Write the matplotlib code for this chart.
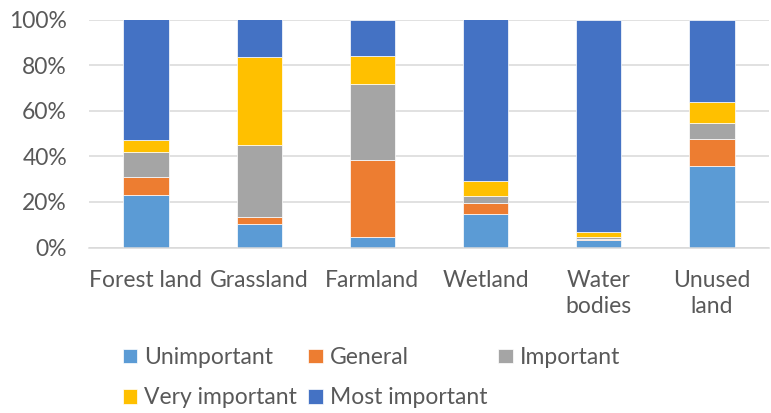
import matplotlib
matplotlib.use("Agg")
import matplotlib.pyplot as plt
import numpy as np

categories = ["Forest land", "Grassland", "Farmland", "Wetland", "Water\nbodies", "Unused\nland"]
series_names = ["Unimportant", "General", "Important", "Very important", "Most important"]
unimportant = [22.9, 10.5, 4.7, 14.9, 3.2, 35.9]
general = [8.2, 2.9, 33.8, 4.4, 0.6, 11.7]
important = [10.8, 31.7, 33.3, 3.5, 0.9, 7.0]
very_important = [5.4, 38.3, 12.4, 6.3, 2.2, 9.0]
most_important = [52.7, 16.6, 15.8, 70.9, 93.1, 36.4]
colors = ["#5B9BD5", "#ED7D31", "#A5A5A5", "#FFC000", "#4472C4"]
yticks = [0, 20, 40, 60, 80, 100]

plt.rcParams['font.family'] = ['Lato', 'DejaVu Sans']
text_color = "#595959"
fs = 16.5

fig = plt.figure(figsize=(7.71, 4.13), dpi=100)
ax = fig.add_axes([89.3/771, 1-247.5/413, (768.7-89.3)/771, (247.5-19.5)/413])

data = [unimportant, general, important, very_important, most_important]
x = np.arange(len(categories))
bottom = np.zeros(len(categories))
handles = []
for name, vals, c in zip(series_names, data, colors):
    h = ax.bar(x, vals, width=0.40, bottom=bottom, color=c, label=name,
               edgecolor="white", linewidth=0.5, zorder=3)
    handles.append(h)
    bottom += np.array(vals)

ax.set_xlim(-0.5, len(categories) - 0.5)
ax.set_ylim(0, 100)
ax.set_yticks(yticks)
ax.set_yticklabels([f"{v}%" for v in yticks])
ax.set_xticks(x)
ax.set_xticklabels(categories)
ax.yaxis.grid(True, color="#D9D9D9", linewidth=1.1, zorder=0)
ax.set_axisbelow(True)
for s in ["top", "right", "left"]:
    ax.spines[s].set_visible(False)
ax.spines["bottom"].set_color("#D9D9D9")
ax.spines["bottom"].set_linewidth(1.1)
ax.spines["bottom"].set_zorder(4)
ax.tick_params(axis="both", length=0, labelsize=fs, colors=text_color)
ax.tick_params(axis="y", pad=16)
ax.tick_params(axis="x", pad=16)
for lbl in ax.get_xticklabels():
    lbl.set_linespacing(1.3)

order = [0, 3, 1, 4, 2]
leg = fig.legend([handles[i] for i in order], [series_names[i] for i in order],
                 ncol=3, loc="upper left", bbox_to_anchor=(123/771, 1-347/413),
                 frameon=False, fontsize=fs, handlelength=0.62, handleheight=0.62,
                 handletextpad=0.3, columnspacing=0.5, labelspacing=0.85,
                 borderaxespad=0, borderpad=0)
for t in leg.get_texts():
    t.set_color(text_color)

fig.savefig("out.png", dpi=100)
